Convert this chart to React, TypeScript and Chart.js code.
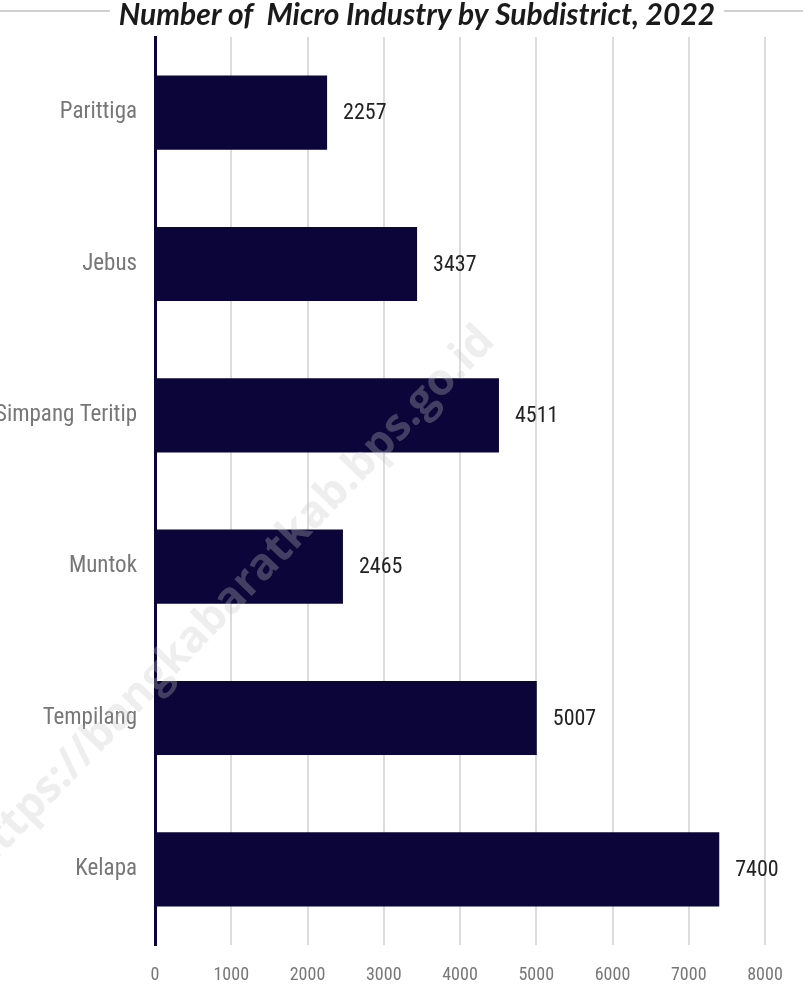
import React, { useEffect, useRef } from "react";
import { Chart, registerables } from "chart.js";

Chart.register(...registerables);

const chartTitle = "Number of  Micro Industry by Subdistrict, 2022";
const categories = ["Parittiga", "Jebus", "Simpang Teritip", "Muntok", "Tempilang", "Kelapa"];
const values = [2257, 3437, 4511, 2465, 5007, 7400];
const watermark = "https://bangkabaratkab.bps.go.id";

const FONT = "'Roboto Condensed', 'Liberation Sans Narrow', 'DejaVu Sans Condensed', sans-serif";
const TITLE_FONT = "Lato, 'Liberation Sans', sans-serif";
const BAR = "#0b0539";

export default function App() {
  const ref = useRef<HTMLCanvasElement | null>(null);

  useEffect(() => {
    if (!ref.current) return;
    const extras = {
      id: "extras",
      beforeDatasetsDraw(chart: any) {
        const ctx = chart.ctx;
        ctx.save();
        ctx.strokeStyle = "#d0d0d0";
        ctx.lineWidth = 2;
        ctx.beginPath();
        ctx.moveTo(0, 11);
        ctx.lineTo(110, 11);
        ctx.moveTo(724, 11);
        ctx.lineTo(803, 11);
        ctx.stroke();
        ctx.restore();
      },
      afterDraw(chart: any) {
        const ctx = chart.ctx;
        const meta = chart.getDatasetMeta(0);
        ctx.save();
        // value labels
        ctx.font = `22px ${FONT}`;
        ctx.fillStyle = "#222222";
        ctx.textAlign = "left";
        ctx.textBaseline = "middle";
        meta.data.forEach((bar: any, i: number) => {
          ctx.fillText(String(values[i]), bar.x + 16, bar.y + 1);
        });
        // title
        ctx.font = `italic bold 30px ${TITLE_FONT}`;
        ctx.fillStyle = "#1a1a1a";
        ctx.textAlign = "center";
        ctx.textBaseline = "middle";
        ctx.fillText(chartTitle, 417, 15);
        // watermark
        ctx.translate(240, 608);
        ctx.rotate(-46 * Math.PI / 180);
        ctx.font = `bold 44px 'Open Sans', sans-serif`;
        ctx.fillStyle = "rgba(200,200,200,0.3)";
        ctx.textAlign = "center";
        ctx.textBaseline = "alphabetic";
        ctx.fillText(watermark, 0, 0);
        ctx.restore();
      },
    };

    const chart = new Chart(ref.current, {
      type: "bar",
      data: {
        labels: categories,
        datasets: [
          {
            data: values,
            backgroundColor: BAR,
            borderWidth: 0,
            barPercentage: 0.49,
            categoryPercentage: 1,
          },
        ],
      },
      options: {
        indexAxis: "y",
        responsive: false,
        animation: false,
        layout: { padding: { top: 37, right: 38, left: 0, bottom: 0 } },
        plugins: {
          legend: { display: false },
          title: { display: false },
          tooltip: { enabled: false },
        },
        scales: {
          x: {
            min: 0,
            max: 8000,
            ticks: {
              stepSize: 1000,
              color: "#777777",
              font: { family: FONT, size: 18 },
              padding: 20,
              callback: (v: any) => String(v),
            },
            grid: { color: "#dcdcdc", lineWidth: 2, drawTicks: false },
            border: { display: false },
            afterFit(scale: any) {
              scale.height = 58;
            },
          },
          y: {
            ticks: {
              color: "#777777",
              font: { family: FONT, size: 23 },
              padding: 18,
            },
            grid: { display: false, drawTicks: false },
            border: { display: true, color: BAR, width: 3 },
            afterFit(scale: any) {
              scale.width = 155;
            },
          },
        },
      },
      plugins: [extras],
    });
    return () => chart.destroy();
  }, []);

  return (
    <div style={{ position: "absolute", left: 0, top: 0, width: 803, height: 1003, background: "#fff" }}>
      <canvas ref={ref} width={803} height={1003} style={{ display: "block" }} />
    </div>
  );
}
